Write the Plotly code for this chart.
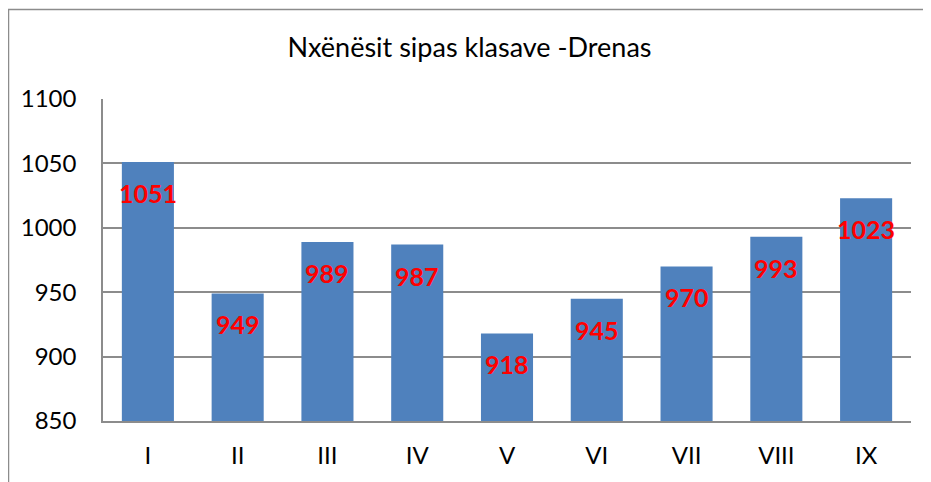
import plotly.graph_objects as go

categories = ["I", "II", "III", "IV", "V", "VI", "VII", "VIII", "IX"]
values = [1051, 949, 989, 987, 918, 945, 970, 993, 1023]
y_ticks = [850, 900, 950, 1000, 1050, 1100]
title_text = "Nxënësit sipas klasave -Drenas"

# the page body adds an 8px offset; size the figure to fill the rest
OFF = 8
W, H = 931 - OFF, 482 - OFF
ml, mr, mt, mb = 103 - OFF, 20, 99 - OFF, 61
pw = W - ml - mr
ph = H - mt - mb

fig = go.Figure()
fig.add_trace(go.Bar(
    x=categories, y=values,
    marker=dict(color="#4F81BD", line=dict(width=0)),
    hoverinfo="x+y",
))

for c, v in zip(categories, values):
    fig.add_annotation(
        x=c, y=v, xref="x", yref="y",
        text=f"<b>{v}</b>", showarrow=False,
        yanchor="middle", yshift=-31,
        font=dict(family="Lato", size=25, color="#FF0000"),
    )

# chart-area frame (left and top edges visible in the reference)
fx = (0.5 - ml) / pw
fy = (H - mb - 1.5) / ph
fig.add_shape(type="rect", xref="paper", yref="paper",
              x0=fx, x1=1.2, y0=-0.5, y1=fy,
              line=dict(color="#8C8C8C", width=1.5), layer="below")

fig.update_layout(
    width=W, height=H,
    margin=dict(l=ml, r=mr, t=mt, b=mb, autoexpand=False),
    paper_bgcolor="white", plot_bgcolor="white",
    bargap=0.42,
    showlegend=False,
    title=dict(text=title_text, x=0.5, xanchor="center",
               y=1 - (48 - OFF) / H,
               yanchor="middle", yref="container",
               font=dict(family="Lato", size=27, color="#000000")),
    font=dict(family="Lato", color="#000000"),
)
fig.update_yaxes(
    range=[850, 1100], tickvals=y_ticks,
    showgrid=True, gridcolor="#8C8C8C", gridwidth=1.5,
    showline=True, linecolor="#8C8C8C", linewidth=1.5,
    ticks="", ticklabelstandoff=20,
    tickfont=dict(family="Lato", size=24, color="#000000"),
    zeroline=False,
)
fig.update_xaxes(
    showline=True, linecolor="#8C8C8C", linewidth=1.5,
    ticks="", ticklabelstandoff=12,
    tickfont=dict(family="Lato", size=24, color="#000000"),
)

fig.write_html("out.html")
